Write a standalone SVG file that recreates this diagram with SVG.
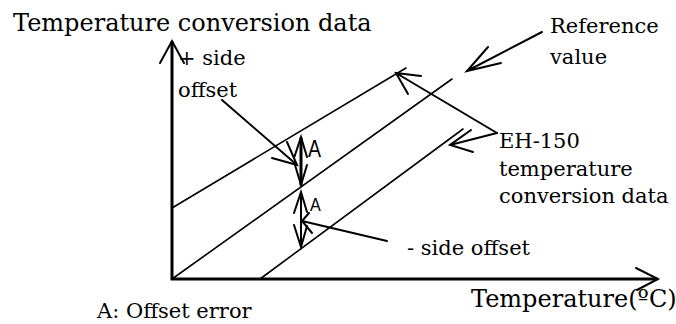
<svg xmlns="http://www.w3.org/2000/svg" width="676" height="324" viewBox="0 0 676 324">
<style>
.ln{fill:none;stroke:#000;stroke-width:1.6;stroke-linecap:round;stroke-linejoin:round}
.ax{fill:none;stroke:#000;stroke-width:3;stroke-linecap:square}
.ar{fill:none;stroke:#000;stroke-width:2;stroke-linecap:round;stroke-linejoin:miter}
.t{font-family:"DejaVu Serif","Liberation Serif",serif;font-size:21px;fill:#000}
.big{font-size:24px}
.a{font-family:"Liberation Sans",Arial,sans-serif;fill:#000}
</style>
<rect width="676" height="324" fill="#fff"/>
<g id="axes">
<path class="ax" d="M172,43 L172,279 L656,279"/>
<path class="ar" d="M160,63 L172,41 L184,63"/>
<path class="ar" d="M636,268 L658,279 L637,290"/>
</g>
<g id="data-lines">
<path id="plus-line" class="ln" d="M172,208 L406,68"/>
<path id="reference-line" class="ln" d="M172,279 L452,79"/>
<path id="minus-line" class="ln" d="M260,279 L463,129"/>
</g>
<g id="offset-markers">
<g id="marker-a1">
<path class="ax" d="M301,139 L301,184"/>
<path class="ar" d="M294,158 L301,137 L307,157 M295,165 L301,185 L307,165"/>
<text class="a" font-size="23" transform="translate(308,157) scale(0.85,1)">A</text>
</g>
<g id="marker-a2">
<path class="ar" d="M301,193 L301,246"/>
<path class="ar" d="M294,213 L301,192 L307,212 M294,225 L301,247 L307,226"/>
<text class="a" font-size="19" transform="translate(310,211) scale(0.85,1)">A</text>
</g>
</g>
<g id="connectors">
<path class="ar" d="M542,32 L467,71 M488,47 L467,71 L501,63"/>
<path class="ar" d="M497,133 L396,73 M421,76 L396,73 L408,94"/>
<path class="ar" d="M497,133 L450,145 M471,130 L450,145 L473,152"/>
<path class="ar" d="M222,100 L297,165 M272,158 L297,165 L287,142"/>
<path class="ar" d="M387,241 L302,221 M309,213 L302,221 L312,233"/>
</g>
<g id="labels">
<text class="t big" x="13" y="31">Temperature conversion data</text>
<text class="t" x="178" y="65">+ side</text>
<text class="t" x="178" y="97">offset</text>
<text class="t" x="550" y="33">Reference</text>
<text class="t" x="550" y="64">value</text>
<text class="t" x="499" y="148">EH-150</text>
<text class="t" x="499" y="176">temperature</text>
<text class="t" x="499" y="203">conversion data</text>
<text class="t" x="407" y="255">- side offset</text>
<text class="t big" x="471" y="307">Temperature(ºC)</text>
<text class="t" x="97" y="318">A: Offset error</text>
</g>
</svg>
